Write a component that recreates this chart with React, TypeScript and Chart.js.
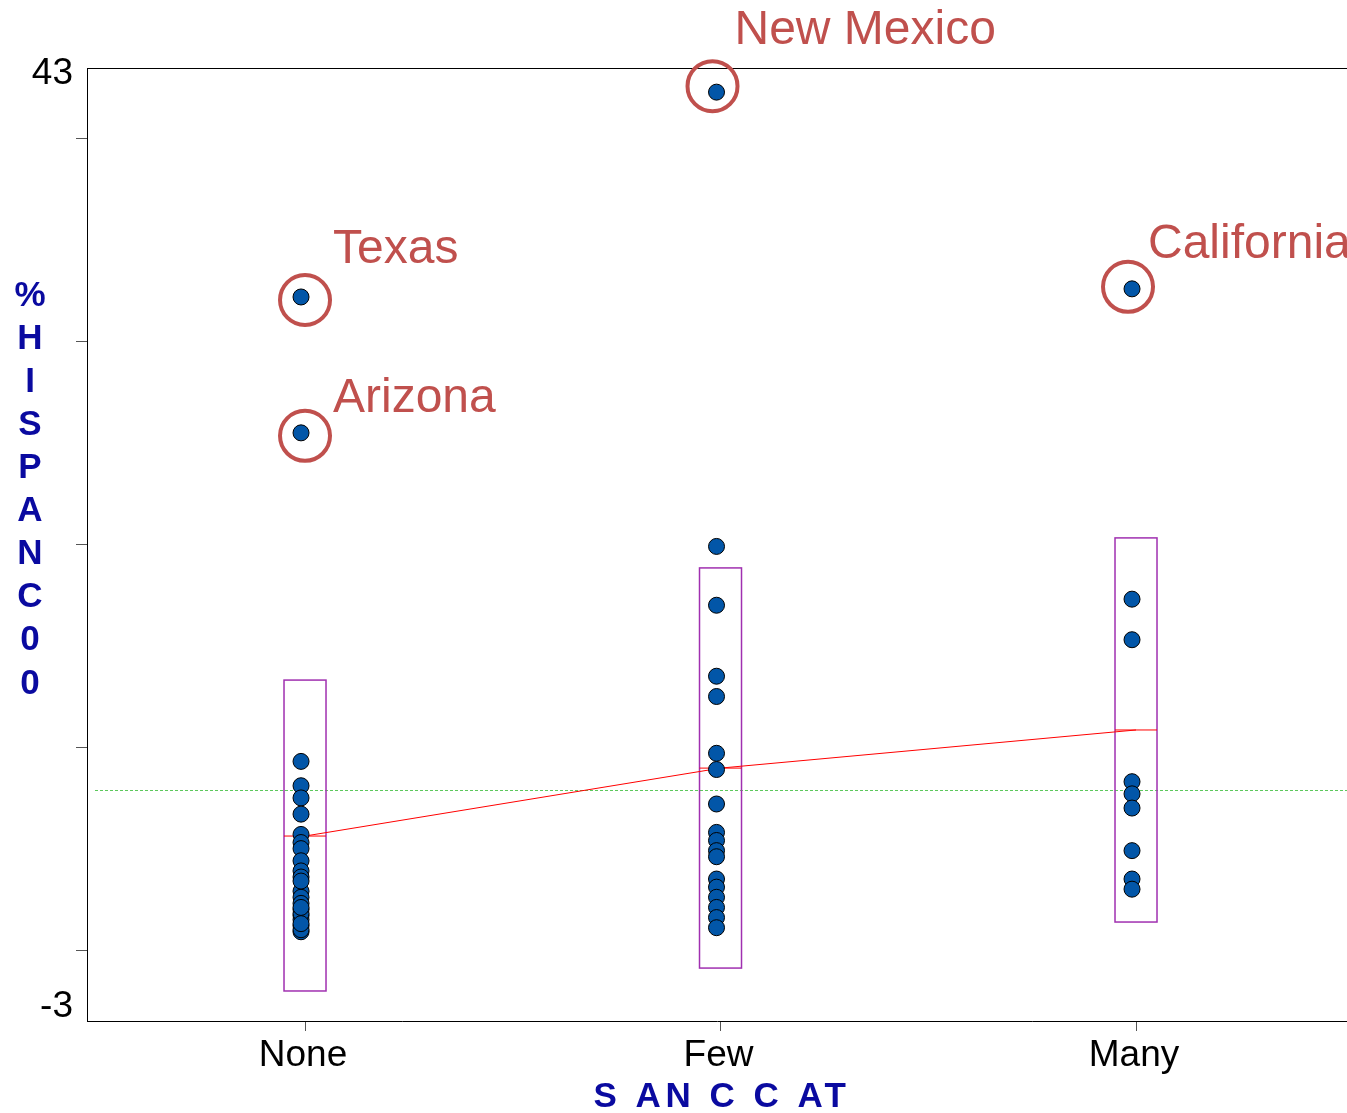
import React, { useEffect, useRef } from 'react';
import { Chart, registerables } from 'chart.js';

Chart.register(...registerables);

// ---------------- data ----------------
const categories = ['None', 'Few', 'Many'];

const noneValues = [32.2, 25.5, 9.3, 8.1, 7.5, 6.7, 5.7, 5.3, 5.0, 4.4, 3.9, 3.6, 2.9, 2.6, 2.3, 2.0, 1.7, 1.2, 0.9, 1.0, 1.5, 1.8, 2.1, 3.4, 1.3];
const fewValues = [42.3, 19.9, 17.0, 13.5, 12.5, 9.7, 8.9, 7.2, 5.8, 5.4, 4.9, 4.6, 3.5, 3.1, 2.6, 2.1, 1.6, 1.1];
const manyValues = [32.6, 17.3, 15.3, 8.3, 7.7, 7.0, 4.9, 3.5, 3.0];

const groupMeans = [5.62, 8.97, 10.85];
const boxLow = [-2.02, -0.89, 1.38];
const boxHigh = [13.31, 18.84, 20.32];
const overallMean = 7.89;

const yTickValues = [-3, 0, 10, 20, 30, 40, 43];
const yLabelValues = [-3, 43];

const outlierNames = ['Texas', 'Arizona', 'New Mexico', 'California'];
const outlierCategory = ['None', 'None', 'Few', 'Many'];
const outlierValues = [32.2, 25.5, 42.3, 32.6];

const yTitle = '%HISPANC00';
const xTitle = 'S AN C C AT';

// ---------------- styles ----------------
const FONT = "'Liberation Sans', Arial, Helvetica, sans-serif";
const POINT_COLOR = '#0256A8';
const BOX_COLOR = '#A030B0';
const ANNOT_COLOR = '#C0504D';
const TITLE_COLOR = '#0A0AA0';
const BOX_HALF = 21;
const POINT_NUDGE = -0.0096; // markers sit slightly left of the category centre
// [label dx, label dy, circle dx, circle dy] relative to the category/value pixel
const annotOffsets: Record<string, number[]> = {
  Texas: [28, -34, 0, 3],
  Arizona: [28, -21, 0, 3],
  'New Mexico': [14, -48, -8, -6],
  California: [12, -31, -8, -2],
};

const valueSets = [noneValues, fewValues, manyValues];

const overlayPlugin = {
  id: 'overlay',
  beforeDatasetsDraw(chart: any) {
    const { ctx, chartArea, scales } = chart;
    const x = scales.x;
    const y = scales.y;
    ctx.save();
    ctx.strokeStyle = '#000';
    ctx.lineWidth = 1;
    ctx.beginPath();
    ctx.moveTo(chartArea.left, chartArea.top + 0.5);
    ctx.lineTo(chartArea.right, chartArea.top + 0.5);
    ctx.stroke();
    const gy = Math.round(y.getPixelForValue(overallMean)) + 0.5;
    ctx.strokeStyle = '#5CC85C';
    ctx.setLineDash([3, 2]);
    ctx.beginPath();
    ctx.moveTo(chartArea.left + 8, gy);
    ctx.lineTo(chartArea.right, gy);
    ctx.stroke();
    ctx.setLineDash([]);
    categories.forEach((_, i) => {
      const cx = x.getPixelForValue(i + 1);
      const top = y.getPixelForValue(boxHigh[i]);
      const bot = y.getPixelForValue(boxLow[i]);
      ctx.strokeStyle = BOX_COLOR;
      ctx.lineWidth = 1.5;
      ctx.strokeRect(cx - BOX_HALF, top, BOX_HALF * 2, bot - top);
      const my = y.getPixelForValue(groupMeans[i]);
      ctx.strokeStyle = '#FF0000';
      ctx.lineWidth = 1;
      ctx.beginPath();
      ctx.moveTo(cx - BOX_HALF, my);
      ctx.lineTo(cx + BOX_HALF, my);
      ctx.stroke();
    });
    ctx.restore();
  },
  afterDatasetsDraw(chart: any) {
    const { ctx, scales } = chart;
    const x = scales.x;
    const y = scales.y;
    ctx.save();
    outlierNames.forEach((name, i) => {
      const ci = categories.indexOf(outlierCategory[i]);
      const px = x.getPixelForValue(ci + 1);
      const py = y.getPixelForValue(outlierValues[i]);
      const o = annotOffsets[name];
      ctx.strokeStyle = ANNOT_COLOR;
      ctx.lineWidth = 4;
      ctx.beginPath();
      ctx.arc(px + o[2], py + o[3], 25, 0, Math.PI * 2);
      ctx.stroke();
      ctx.fillStyle = ANNOT_COLOR;
      ctx.font = `48px ${FONT}`;
      ctx.textAlign = 'left';
      ctx.textBaseline = 'alphabetic';
      ctx.fillText(name, px + o[0], py + o[1]);
    });
    ctx.restore();
  },
  afterDraw(chart: any) {
    const { ctx } = chart;
    ctx.save();
    ctx.fillStyle = TITLE_COLOR;
    ctx.font = `bold 35px ${FONT}`;
    ctx.textAlign = 'center';
    ctx.textBaseline = 'middle';
    yTitle.split('').forEach((ch, i) => {
      ctx.fillText(ch, 30, 296 + i * 43.1);
    });
    (ctx as any).letterSpacing = '4.5px';
    ctx.fillText(xTitle, 722, 1097);
    ctx.restore();
  },
};

export default function App() {
  const canvasRef = useRef<HTMLCanvasElement | null>(null);

  useEffect(() => {
    const canvas = canvasRef.current;
    if (!canvas) return;
    const points: { x: number; y: number }[] = [];
    valueSets.forEach((vals, i) => {
      vals.forEach((v) => points.push({ x: i + 1 + POINT_NUDGE, y: v }));
    });
    const meanPts = groupMeans.map((m, i) => ({ x: i + 1, y: m }));

    const chart = new Chart(canvas, {
      type: 'scatter',
      data: {
        datasets: [
          {
            type: 'scatter',
            data: points,
            pointRadius: 8,
            pointBorderWidth: 1,
            pointBackgroundColor: POINT_COLOR,
            pointBorderColor: '#000',
            order: 1,
          } as any,
          {
            type: 'line',
            data: meanPts,
            showLine: true,
            borderColor: '#FF0000',
            borderWidth: 1,
            pointRadius: 0,
            fill: false,
            order: 2,
          } as any,
        ],
      },
      options: {
        animation: false,
        responsive: false,
        devicePixelRatio: 1,
        layout: { autoPadding: false, padding: { top: 68, left: 0, right: 0, bottom: 0 } },
        plugins: { legend: { display: false }, tooltip: { enabled: false } },
        elements: { point: { hoverRadius: 8 } },
        scales: {
          x: {
            type: 'linear',
            min: 0.4753,
            max: 3.5078,
            afterBuildTicks: (s: any) => {
              s.ticks = categories.map((_, i) => ({ value: i + 1 }));
            },
            afterFit: (s: any) => {
              s.height = 92;
            },
            ticks: {
              autoSkip: false,
              maxRotation: 0,
              color: '#000',
              padding: 3,
              labelOffset: -2,
              font: { family: FONT, size: 37 },
              callback: (v: any) => categories[Math.round(v) - 1] ?? '',
            },
            grid: { drawOnChartArea: false, drawTicks: true, tickLength: 10, tickColor: '#555' },
            border: { display: true, color: '#000', width: 1 },
          },
          y: {
            type: 'linear',
            min: -3.5,
            max: 43.49,
            afterBuildTicks: (s: any) => {
              s.ticks = yTickValues.map((v) => ({ value: v }));
            },
            afterFit: (s: any) => {
              s.width = 87;
            },
            ticks: {
              autoSkip: false,
              color: '#000',
              padding: 3,
              labelOffset: -4,
              font: { family: FONT, size: 37 },
              callback: (v: any) => (yLabelValues.includes(v) ? String(v) : ''),
            },
            grid: {
              drawOnChartArea: false,
              drawTicks: true,
              tickLength: 11,
              tickColor: (c: any) => (c.tick && yLabelValues.includes(c.tick.value) ? 'rgba(0,0,0,0)' : '#555'),
            },
            border: { display: true, color: '#000', width: 1 },
          },
        },
      },
      plugins: [overlayPlugin],
    });
    return () => chart.destroy();
  }, []);

  return (
    <div style={{ position: 'absolute', left: 0, top: 0, width: 1347, height: 1113, background: '#fff' }}>
      <canvas ref={canvasRef} width={1347} height={1113} />
    </div>
  );
}
